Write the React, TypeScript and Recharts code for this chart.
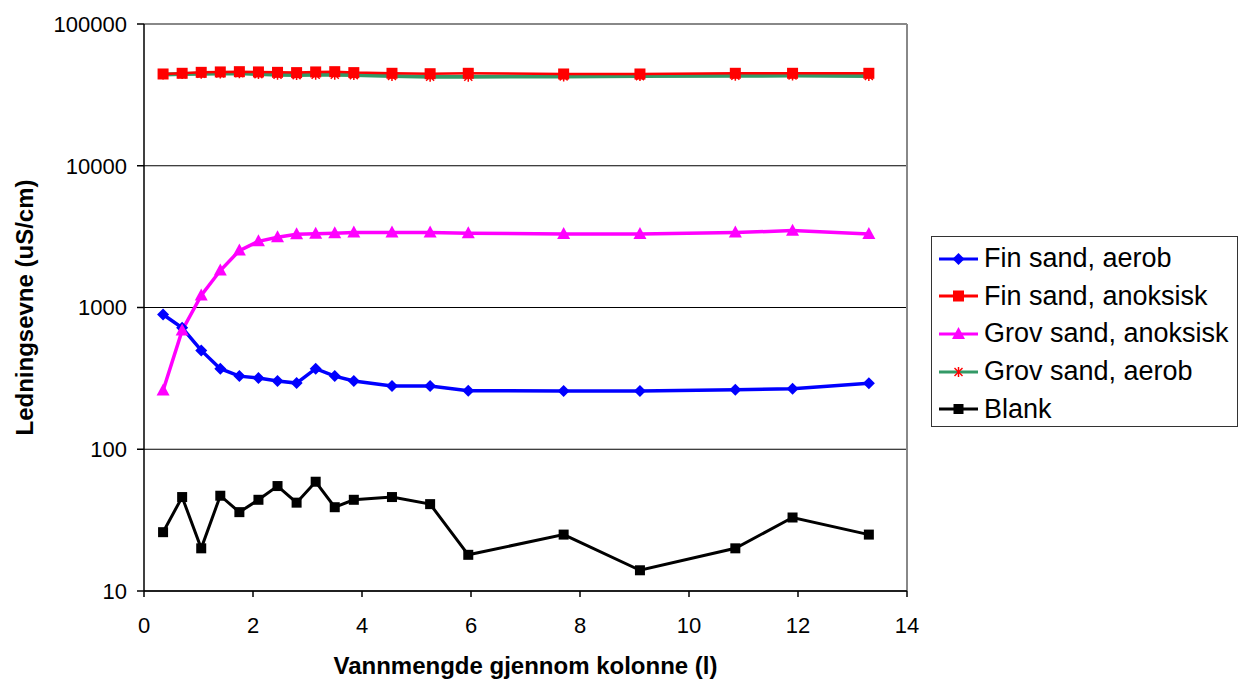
import React from 'react';
import { LineChart, Line, XAxis, YAxis, CartesianGrid, Legend, ReferenceLine } from 'recharts';

const volume = [0.35, 0.7, 1.05, 1.4, 1.75, 2.1, 2.45, 2.8, 3.15, 3.5, 3.85, 4.55, 5.25, 5.95, 7.7, 9.1, 10.85, 11.9, 13.3];
const finAerob = [893, 719, 498, 370, 328, 318, 303, 293, 370, 328, 303, 279, 279, 259, 258, 258, 263, 267, 292];
const finAnoksisk = [44400, 44900, 45600, 45900, 46100, 45900, 45600, 45400, 45900, 46100, 45400, 44900, 44600, 44900, 44400, 44400, 44900, 44900, 44900];
const grovAnoksisk = [260, 689, 1216, 1823, 2520, 2931, 3126, 3283, 3318, 3340, 3375, 3375, 3375, 3340, 3300, 3300, 3375, 3486, 3300];
const grovAerob = [44000, 44300, 44600, 44800, 44900, 44300, 43900, 43600, 43800, 43900, 43600, 43000, 42500, 42500, 42700, 42900, 43100, 43300, 43000];
const blank = [26, 46, 20, 47, 36, 44, 55, 42, 59, 39, 44, 46, 41, 18, 25, 14, 20, 33, 25];

const xTicks = [0, 2, 4, 6, 8, 10, 12, 14];
const yTicks = [10, 100, 1000, 10000, 100000];

const data = volume.map((v, i) => ({
  x: v,
  finAerob: finAerob[i],
  finAnoksisk: finAnoksisk[i],
  grovAnoksisk: grovAnoksisk[i],
  grovAerob: grovAerob[i],
  blank: blank[i],
}));

const FONT = '"Liberation Sans", Arial, sans-serif';

type MarkerKind = 'diamond' | 'square' | 'triangle' | 'star' | 'blacksquare';

function markerShape(kind: MarkerKind, cx: number, cy: number, key?: any) {
  switch (kind) {
    case 'diamond':
      return <path key={key} d={`M${cx},${cy - 6} L${cx + 6},${cy} L${cx},${cy + 6} L${cx - 6},${cy} Z`} fill="#0000FF" />;
    case 'square':
      return <rect key={key} x={cx - 5.5} y={cy - 5.5} width={11} height={11} fill="#FF0000" />;
    case 'triangle':
      return <path key={key} d={`M${cx},${cy - 7} L${cx + 6.5},${cy + 5} L${cx - 6.5},${cy + 5} Z`} fill="#FF00FF" />;
    case 'star':
      return (
        <g key={key} stroke="#FF0000" strokeWidth={1.5}>
          <line x1={cx - 4} y1={cy - 4} x2={cx + 4} y2={cy + 4} />
          <line x1={cx - 4} y1={cy + 4} x2={cx + 4} y2={cy - 4} />
          <line x1={cx} y1={cy - 5} x2={cx} y2={cy + 5} />
        </g>
      );
    case 'blacksquare':
    default:
      return <rect key={key} x={cx - 5} y={cy - 5} width={10} height={10} fill="#000000" />;
  }
}

const makeDot = (kind: MarkerKind) => (props: any) => {
  const { cx, cy, key, index } = props;
  if (cx == null || cy == null) return <g key={key ?? index} />;
  return markerShape(kind, cx, cy, key ?? `${kind}-${index}`);
};

const legendItems: { name: string; color: string; kind: MarkerKind; width: number }[] = [
  { name: 'Fin sand, aerob', color: '#0000FF', kind: 'diamond', width: 3 },
  { name: 'Fin sand, anoksisk', color: '#FF0000', kind: 'square', width: 3 },
  { name: 'Grov sand, anoksisk', color: '#FF00FF', kind: 'triangle', width: 3 },
  { name: 'Grov sand, aerob', color: '#339966', kind: 'star', width: 3 },
  { name: 'Blank', color: '#000000', kind: 'blacksquare', width: 3 },
];

const renderLegend = () => (
  <div
    style={{
      width: 305,
      height: 186,
      border: '1px solid #333',
      background: '#fff',
      boxSizing: 'content-box',
      fontFamily: FONT,
      fontSize: 27,
      color: '#000',
      paddingTop: 3,
    }}
  >
    {legendItems.map((it) => (
      <div key={it.name} style={{ display: 'flex', alignItems: 'center', height: 37.6 }}>
        <svg width={46} height={20} style={{ marginLeft: 6, flex: 'none' }}>
          <line x1={1} y1={10} x2={40} y2={10} stroke={it.color} strokeWidth={it.width} />
          {markerShape(it.kind, 20.5, 10)}
        </svg>
        <span style={{ whiteSpace: 'nowrap' }}>{it.name}</span>
      </div>
    ))}
  </div>
);

const YLabel = (props: any) => {
  const vb = props.viewBox || {};
  const cx = (vb.x ?? 0) + 33;
  const cy = (vb.y ?? 0) + (vb.height ?? 0) / 2;
  return (
    <text
      x={cx}
      y={cy}
      transform={`rotate(-90, ${cx}, ${cy})`}
      textAnchor="middle"
      fontFamily={FONT}
      fontWeight="bold"
      fontSize={24}
      fill="#000"
    >
      Ledningsevne (uS/cm)
    </text>
  );
};

export default function App() {
  return (
    <div style={{ position: 'absolute', left: 0, top: 0, width: 1238, height: 679, background: '#fff' }}>
      <LineChart
        width={1238}
        height={679}
        data={data}
        margin={{ top: 24, right: 331, bottom: 0, left: 0 }}
        style={{ fontFamily: FONT }}
      >
        <CartesianGrid horizontal={true} vertical={false} stroke="#000" strokeWidth={1.2} />
        <ReferenceLine y={100000} stroke="#888" strokeWidth={2} />
        <ReferenceLine x={14} stroke="#888" strokeWidth={2} />
        <XAxis
          dataKey="x"
          type="number"
          domain={[0, 14]}
          ticks={xTicks}
          interval={0}
          height={88}
          tickSize={6}
          tickMargin={20}
          stroke="#000"
          strokeWidth={1.5}
          tick={{ fill: '#000', fontSize: 22, fontFamily: FONT }}
          label={{
            value: 'Vannmengde gjennom kolonne (l)',
            position: 'insideBottom',
            offset: 5,
            fill: '#000',
            fontSize: 24,
            fontWeight: 'bold',
            fontFamily: FONT,
          }}
        />
        <YAxis
          scale="log"
          domain={[10, 100000]}
          ticks={yTicks}
          interval={0}
          allowDataOverflow
          width={144}
          tickSize={7}
          tickMargin={10}
          stroke="#000"
          strokeWidth={1.5}
          tick={{ fill: '#000', fontSize: 22, fontFamily: FONT }}
          label={<YLabel />}
        />
        <Legend
          content={renderLegend}
          layout="vertical"
          verticalAlign="middle"
          align="center"
          wrapperStyle={{ position: 'absolute', left: 931, top: 236, width: 307, right: 'auto', bottom: 'auto' }}
        />
        <Line
          type="linear"
          dataKey="finAerob"
          name="Fin sand, aerob"
          stroke="#0000FF"
          strokeWidth={3.5}
          dot={makeDot('diamond')}
          activeDot={false}
          isAnimationActive={false}
        />
        <Line
          type="linear"
          dataKey="grovAerob"
          name="Grov sand, aerob"
          stroke="#339966"
          strokeWidth={4}
          dot={makeDot('star')}
          activeDot={false}
          isAnimationActive={false}
        />
        <Line
          type="linear"
          dataKey="finAnoksisk"
          name="Fin sand, anoksisk"
          stroke="#FF0000"
          strokeWidth={2.5}
          dot={makeDot('square')}
          activeDot={false}
          isAnimationActive={false}
        />
        <Line
          type="linear"
          dataKey="grovAnoksisk"
          name="Grov sand, anoksisk"
          stroke="#FF00FF"
          strokeWidth={3.5}
          dot={makeDot('triangle')}
          activeDot={false}
          isAnimationActive={false}
        />
        <Line
          type="linear"
          dataKey="blank"
          name="Blank"
          stroke="#000000"
          strokeWidth={3}
          dot={makeDot('blacksquare')}
          activeDot={false}
          isAnimationActive={false}
        />
      </LineChart>
    </div>
  );
}
